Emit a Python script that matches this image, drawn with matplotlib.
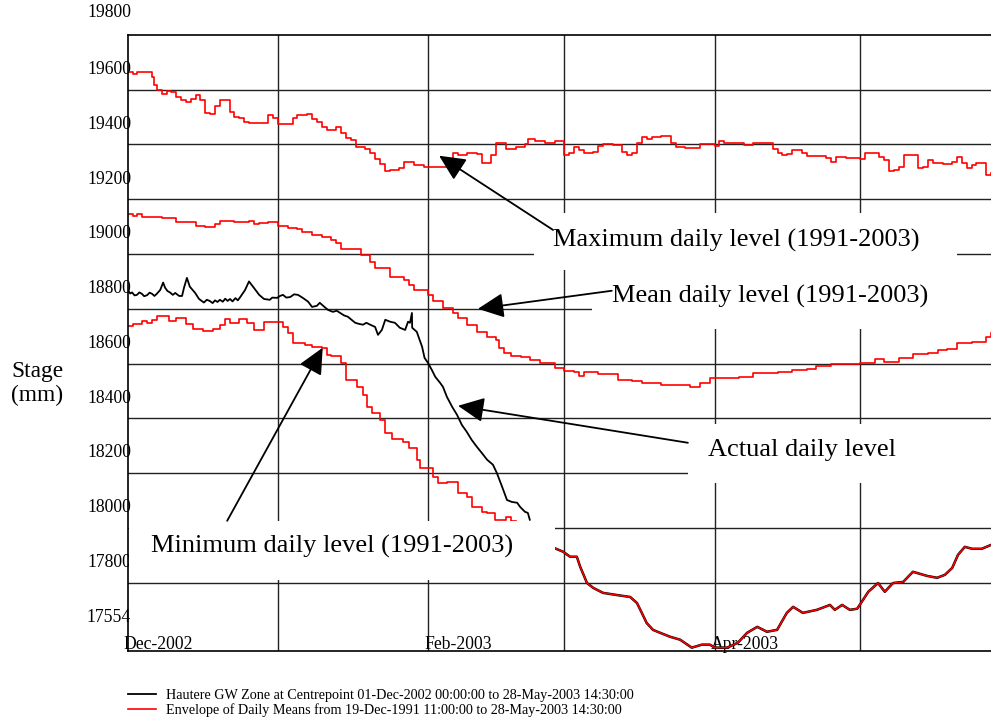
import matplotlib.pyplot as plt
import matplotlib.transforms as mtransforms
from matplotlib.patches import Rectangle

plt.rcParams['font.family'] = ['Liberation Serif', 'DejaVu Serif']

# ----------------------------------------------------------------------------------------------------
# data (x = days since 01-Dec-2002, y = stage in mm)

# maximum daily level (1991-2003), step series
max_days = [0, 1, 2, 5, 5.5, 6, 7, 8, 9, 10, 11, 12, 13, 14, 15, 16, 17, 18, 19, 21,
            22, 23, 24, 25, 29, 30, 31, 34, 35, 37, 38, 39, 40, 41, 43, 44, 45, 46, 47, 49,
            50, 51, 52, 53, 54, 56, 57, 59, 61, 67, 68, 70, 72, 73, 75, 76, 78, 80, 82, 82.5,
            84, 86, 88, 90, 91, 92, 93, 94, 96, 97, 98, 100, 102, 103, 104, 105, 106, 107, 108, 110,
            112, 113, 115, 118, 120, 121, 122, 123, 127, 129, 133, 134, 135, 136, 137, 139, 140, 144, 145, 146,
            148, 151, 152, 155, 156, 157, 158, 159, 160, 163, 164, 165, 166, 168, 170, 171, 172, 173, 174, 175,
            177, 178]
max_vals = [19585, 19575, 19585, 19565, 19537, 19519, 19504, 19516, 19509, 19494, 19482, 19475, 19486, 19500, 19482, 19435, 19431, 19460, 19482, 19438,
            19420, 19416, 19401, 19398, 19427, 19416, 19394, 19416, 19427, 19431, 19413, 19401, 19383, 19372, 19383, 19361, 19343, 19336, 19311, 19303,
            19289, 19267, 19248, 19223, 19226, 19233, 19254, 19245, 19237, 19289, 19281, 19289, 19285, 19252, 19281, 19325, 19303, 19310, 19321, 19339,
            19330, 19325, 19332, 19281, 19289, 19311, 19300, 19289, 19292, 19314, 19321, 19317, 19292, 19281, 19289, 19325, 19347, 19339, 19347, 19350,
            19325, 19311, 19307, 19321, 19320, 19314, 19332, 19325, 19317, 19325, 19303, 19289, 19281, 19285, 19300, 19289, 19278, 19270, 19256, 19274,
            19270, 19267, 19289, 19274, 19263, 19223, 19226, 19237, 19281, 19233, 19237, 19263, 19252, 19248, 19256, 19274, 19252, 19233, 19245, 19252,
            19208, 19215]

# mean daily level (1991-2003)
mean_days = [0, 1, 2, 3, 7, 10, 14, 16, 18, 19, 22, 25, 26, 27, 29, 31, 33, 35, 36, 38,
             40, 42, 43, 44, 48, 50, 51, 54, 57, 58, 59, 62, 63, 65, 67, 68, 70, 72, 74, 76,
             76.5, 77.5, 79, 81, 83, 85, 88, 90, 92, 93, 94, 97, 101, 104, 106, 110, 116, 118, 120, 126,
             129, 134, 137, 140, 142, 145, 151, 154, 156, 159, 162, 165, 167, 169, 171, 174, 177, 178]
mean_vals = [19066, 19059, 19066, 19055, 19051, 19037, 19022, 19019, 19030, 19041, 19037, 19041, 19030, 19033, 19037, 19022, 19015, 19011, 19000, 18989,
             18982, 18971, 18960, 18937, 18916, 18890, 18868, 18836, 18824, 18806, 18788, 18770, 18748, 18722, 18704, 18686, 18661, 18635, 18617, 18606,
             18577, 18559, 18548, 18544, 18533, 18522, 18504, 18493, 18489, 18475, 18489, 18482, 18460, 18456, 18449, 18441, 18434, 18449, 18467, 18471,
             18485, 18489, 18496, 18500, 18511, 18518, 18522, 18536, 18525, 18540, 18554, 18558, 18569, 18573, 18594, 18598, 18616, 18631]

# minimum daily level (1991-2003), visible part only
min_days = [0, 1, 3, 4, 5, 6, 8.5, 10, 12, 13.5, 15.5, 17.5, 19, 20, 21, 23, 24.5, 26, 28, 31,
            32, 33, 34, 36.5, 38, 40, 41, 42, 44, 45, 47.3, 48.5, 49.3, 50.4, 52, 53, 54.5, 56.8, 58, 59.6,
            60.2, 62.9, 64, 65.8, 68, 70, 71, 73, 74, 75.7, 78, 79, 80]
min_vals = [18658, 18664, 18675, 18668, 18679, 18693, 18675, 18686, 18664, 18646, 18639, 18646, 18661, 18682, 18668, 18682, 18668, 18643, 18670, 18672,
            18653, 18631, 18595, 18588, 18580, 18577, 18551, 18548, 18522, 18460, 18434, 18405, 18361, 18339, 18314, 18266, 18244, 18233, 18211, 18168,
            18138, 18105, 18083, 18087, 18046, 18032, 17996, 17977, 17974, 17949, 17959, 17945, 17945]

# actual level, Hautere GW Zone at Centrepoint (visible part above the label)
act_days = [0, 0.5, 0.9, 1.4, 1.9, 2.4, 2.9, 3.4, 4.0, 4.5,
            5.0, 5.5, 6.0, 6.7, 7.3, 7.7, 8.2, 8.7, 9.3, 9.8,
            10.6, 11.2, 11.6, 12.2, 12.8, 13.9, 14.7, 15.7, 16.3, 16.9,
            17.5, 18.0, 18.5, 19.0, 19.6, 20.1, 20.6, 21.1, 21.6, 22.2,
            22.7, 23.2, 24.2, 25.0, 26.0, 27.1, 28.1, 29.3, 29.8, 30.8,
            31.4, 32.0, 32.7, 33.5, 34.3, 35.1, 36.1, 37.2, 38.0, 39.0,
            39.6, 40.3, 41.3, 42.3, 43.1, 43.8, 44.6, 45.4, 46.9, 47.7,
            48.5, 49.2, 50.0, 51.0, 51.6, 52.4, 53.1, 54.1, 55.1, 56.1,
            57.2, 57.8, 58.2, 58.6, 58.65, 59.6, 60.7, 61.2, 61.9, 62.7,
            63.4, 64.4, 65.0, 65.8, 66.9, 67.9, 68.9, 69.9, 70.9, 72.0,
            73.0, 74.1, 75.3, 76.1, 77.2, 78.2, 79.2, 80.3, 80.9, 81.9,
            82.5, 82.9]
act_vals = [18788, 18775, 18779, 18768, 18770, 18779, 18774, 18765, 18769, 18778,
            18774, 18766, 18774, 18788, 18815, 18796, 18784, 18779, 18770, 18777,
            18766, 18766, 18796, 18832, 18800, 18777, 18755, 18742, 18752, 18748,
            18740, 18750, 18744, 18752, 18745, 18756, 18748, 18755, 18746, 18758,
            18750, 18762, 18788, 18819, 18796, 18770, 18755, 18752, 18760, 18759,
            18766, 18770, 18760, 18762, 18772, 18770, 18759, 18745, 18726, 18730,
            18741, 18730, 18715, 18708, 18712, 18704, 18695, 18690, 18668, 18664,
            18661, 18668, 18661, 18653, 18624, 18642, 18679, 18672, 18668, 18650,
            18642, 18672, 18668, 18704, 18650, 18635, 18580, 18540, 18522, 18496,
            18471, 18449, 18434, 18398, 18361, 18332, 18295, 18270, 18241, 18215,
            18193, 18168, 18150, 18120, 18069, 18021, 18014, 18011, 17996, 17978,
            17974, 17949]

# lower part (actual and envelope overlapping)
low_days = [87.9, 89.8, 91.2, 92.6, 93.3, 94.7, 96, 98, 100.9, 103.6, 105, 106, 107, 108.3, 109.8, 111.8, 113.9, 116.3, 118.4, 120,
            121.1, 123.6, 125.8, 127.7, 129.8, 131.8, 133.9, 135.9, 137.2, 139.2, 142.1, 144.8, 145.8, 147.3, 148.9, 150.4, 151.6, 152.7, 154.7, 156.1,
            157.8, 159.9, 161.9, 164.8, 166.9, 168.5, 170, 171.2, 172.6, 174.1, 176.1, 178]
low_vals = [17846, 17832, 17814, 17814, 17777, 17718, 17700, 17682, 17674, 17667, 17645, 17609, 17572, 17547, 17536, 17522, 17511, 17482, 17493, 17493,
            17482, 17482, 17500, 17536, 17558, 17540, 17547, 17609, 17631, 17609, 17620, 17638, 17620, 17638, 17620, 17624, 17656, 17686, 17718, 17686,
            17718, 17722, 17759, 17744, 17737, 17748, 17773, 17821, 17850, 17843, 17843, 17857]

# axes / ticks
grid_days = [31, 62, 90, 121, 151]
grid_vals = [19519, 19319, 19119, 18919, 18719, 18519, 18319, 18119, 17919, 17719]
ytick_vals = [19600, 19400, 19200, 19000, 18800, 18600, 18400, 18200, 18000, 17800, 17600]
ytick_labels = ['19600', '19400', '19200', '19000', '18800', '18600', '18400', '18200', '18000', '17800', '17554']
xtick_days = [0, 62, 121]
xtick_labels = ['Dec-2002', 'Feb-2003', 'Apr-2003']

legend_labels = ['Hautere GW Zone at Centrepoint 01-Dec-2002 00:00:00 to 28-May-2003 14:30:00',
                 'Envelope of Daily Means from 19-Dec-1991 11:00:00 to 28-May-2003 14:30:00']

# annotations: label, text position, arrow tail, arrow tip
notes = [
    ('Maximum daily level (1991-2003)', (87.7, 18967), (87.7, 19007), (64.2, 19278)),
    ('Mean daily level (1991-2003)', (99.9, 18763), (99.8, 18785), (72.2, 18719)),
    ('Actual daily level', (119.6, 18204), (115.5, 18230), (68.1, 18365)),
    ('Minimum daily level (1991-2003)', (4.8, 17850), (20.5, 17945), (40.2, 18577)),
]

# white label boxes that hide the plot (axes fraction: x0, y0, x1, y1)
boxes = [(0.4706, 0.6180, 0.9606, 0.7106),
         (0.5378, 0.5222, 1.0100, 0.6213),
         (0.6489, 0.2722, 1.0100, 0.3680),
         (0.0015, 0.1148, 0.4950, 0.2106)]

# ----------------------------------------------------------------------------------------------------
fig = plt.figure(figsize=(9.91, 7.22), dpi=100)
ax = fig.add_axes([0.1289, 0.0988, 0.8711, 0.8532])
ax.set_xlim(0, 178)
ax.set_ylim(17471, 19720)

for g in grid_vals:
    ax.axhline(g, color='#222222', lw=1.0, zorder=1)
for g in grid_days:
    ax.axvline(g, color='#222222', lw=1.0, zorder=1)

max_line, = ax.plot(max_days, max_vals, drawstyle='steps-post', color='red', lw=1.2, zorder=2)
ax.plot(mean_days, mean_vals, drawstyle='steps-post', color='red', lw=1.2, zorder=2)
ax.plot(min_days, min_vals, drawstyle='steps-post', color='red', lw=1.2, zorder=2)
act_line, = ax.plot(act_days, act_vals, color='black', lw=1.3, zorder=2.1)
ax.plot(low_days, low_vals, color='black', lw=1.8, zorder=2)
ax.plot(low_days, low_vals, color='red', lw=1.1, zorder=2.1)

for x0, y0, x1, y1 in boxes:
    ax.add_patch(Rectangle((x0, y0), x1 - x0, y1 - y0, transform=ax.transAxes,
                           facecolor='white', edgecolor='none', zorder=2.3, clip_on=False))

for label, pos, tail, tip in notes:
    ax.annotate('', xy=tip, xytext=tail,
                arrowprops=dict(arrowstyle='-|>,head_length=0.8,head_width=0.38', mutation_scale=20,
                                color='black', lw=1.3, shrinkA=0, shrinkB=0), zorder=3)
    ax.text(pos[0], pos[1], label, fontsize=19, ha='left', va='center', zorder=4)

# spines
for s in ['top', 'left', 'bottom']:
    ax.spines[s].set_linewidth(1.2)
ax.spines['right'].set_visible(False)

# ticks
ax.set_yticks(ytick_vals, ytick_labels)
ax.tick_params(axis='y', length=0, pad=-2.5, labelsize=12.7)
ax.text(0.0038, 19800, '19800', transform=ax.get_yaxis_transform(), ha='right', va='center',
        fontsize=12.7, clip_on=False)

ax.set_xticks(xtick_days, xtick_labels)
ax.tick_params(axis='x', length=0, pad=-10.5, labelsize=12.7)
shift = mtransforms.ScaledTranslation(-4 / 100, 0, fig.dpi_scale_trans)
for lab in ax.get_xticklabels():
    lab.set_ha('left')
    lab.set_transform(lab.get_transform() + shift)

fig.text(37.5 / 991, 1 - 383.5 / 722, 'Stage\n(mm)', ha='center', va='center', fontsize=16.8, linespacing=1.15)

fig.legend(handles=[act_line, max_line], labels=legend_labels, loc='upper left',
           bbox_to_anchor=(0.1289, 1 - 689 / 722), frameon=False, fontsize=10.2,
           handlelength=2.0, handletextpad=0.7, labelspacing=0.1, borderpad=0, borderaxespad=0)

fig.savefig('out.png', dpi=100)
